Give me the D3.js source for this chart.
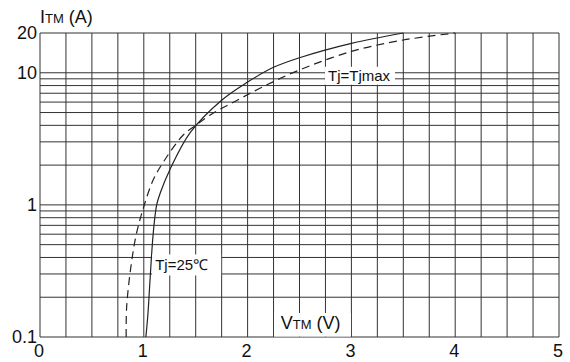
<!DOCTYPE html>
<meta charset="utf-8">
<head>
<style>
  body { margin: 0; background: #fff; }
  svg { display: block; }
  text { font-family: Arial, "Liberation Sans", Helvetica, sans-serif; }
</style>
</head>
<body>
<div id="my_dataviz"></div>
<script src="https://d3js.org/d3.v7.min.js"></script>
<script>
// data
const xTicks = [0, 1, 2, 3, 4, 5];
const yTicks = [0.1, 1, 10, 20];
const yTickLabels = ["0.1", "1", "10", "20"];

// Tj = 25 C (solid)
const v25 = [1.02, 1.04, 1.06, 1.09, 1.124, 1.16, 1.25, 1.45, 1.75, 2.0, 2.25, 2.5, 3.0, 3.5];
const i25 = [0.1, 0.15, 0.27, 0.6, 1.0, 1.24, 1.84, 3.55, 6.2, 8.5, 11.0, 13.0, 16.7, 20];

// Tj = Tjmax (dashed)
const vMax = [0.83, 0.835, 0.88, 0.93, 1.0, 1.09, 1.19, 1.38, 1.5, 1.64, 1.9, 2.15, 2.5, 3.0, 3.5, 4.0];
const iMax = [0.1, 0.17, 0.36, 0.61, 0.97, 1.54, 2.12, 3.38, 4.0, 4.8, 6.2, 7.85, 10.5, 14.5, 17.7, 20];

const W = 570, H = 362;
const margin = {top: 33, right: 11, bottom: 25, left: 40};
const width = W - margin.left - margin.right,
      height = H - margin.top - margin.bottom;

const svg = d3.select("#my_dataviz")
  .append("svg")
    .attr("width", W)
    .attr("height", H);

const g = svg.append("g")
  .attr("transform", `translate(${margin.left}, ${margin.top})`);

const x = d3.scaleLinear().domain([0, 5]).range([0, width]);
const y = d3.scaleLog().domain([0.1, 20]).range([height, 0]);

// grid: verticals every 0.25
const vLines = d3.range(0, 5.001, 0.25);
g.append("g").selectAll("line")
  .data(vLines)
  .join("line")
    .attr("x1", d => x(d)).attr("x2", d => x(d))
    .attr("y1", 0).attr("y2", height)
    .attr("stroke", "#333").attr("stroke-width", 1);

// horizontals: 1..9 in each decade, plus 20
const hLines = [];
[0.1, 1].forEach(dec => { for (let k = 1; k <= 9; k++) hLines.push(dec * k); });
hLines.push(10, 20);
g.append("g").selectAll("line")
  .data(hLines)
  .join("line")
    .attr("x1", 0).attr("x2", width)
    .attr("y1", d => y(d)).attr("y2", d => y(d))
    .attr("stroke", "#333").attr("stroke-width", 1);

// curves
const line = d3.line()
  .x(d => x(d[0]))
  .y(d => y(d[1]))
  .curve(d3.curveCatmullRom.alpha(0.5));

g.append("path")
  .datum(v25.map((v, k) => [v, i25[k]]))
  .attr("d", line)
  .attr("fill", "none")
  .attr("stroke", "#222")
  .attr("stroke-width", 1.2);

g.append("path")
  .datum(vMax.map((v, k) => [v, iMax[k]]))
  .attr("d", line)
  .attr("fill", "none")
  .attr("stroke", "#222")
  .attr("stroke-width", 1.2)
  .attr("stroke-dasharray", "8,5");

// labels with white boxes over the grid
function boxLabel(bx, by, bw, bh) {
  g.append("rect")
    .attr("x", bx).attr("y", by).attr("width", bw).attr("height", bh)
    .attr("fill", "#fff");
}

// Tj=Tjmax
boxLabel(285, y(10) - 6, 70, 18);
g.append("text")
  .attr("x", 288).attr("y", y(10) + 8)
  .style("font-size", "15px").attr("fill", "#111")
  .text("Tj=Tjmax");

// Tj=25C
boxLabel(x(1.08), y(0.4) - 3, x(1.75) - x(1.08) - 0.5, 21);
g.append("text")
  .attr("x", x(1.11)).attr("y", y(0.4) + 13)
  .style("font-size", "15px").attr("fill", "#111")
  .text("Tj=25℃");

// V_TM (V)
boxLabel(x(2.25) + 0.5, height - 24, x(3) - x(2.25) - 1, 23.5);
const xt = g.append("text")
  .attr("x", x(2.32)).attr("y", height - 8.5)
  .attr("fill", "#111");
xt.append("tspan").style("font-size", "18px").text("V");
xt.append("tspan").style("font-size", "13px").text("TM");
xt.append("tspan").style("font-size", "18px").text(" (V)");

// I_TM (A)
const yt = svg.append("text")
  .attr("x", 40).attr("y", 23)
  .attr("fill", "#111");
yt.append("tspan").style("font-size", "18px").text("I");
yt.append("tspan").style("font-size", "13px").text("TM");
yt.append("tspan").style("font-size", "18px").text(" (A)");

// tick labels
g.append("g").selectAll("text")
  .data(yTicks)
  .join("text")
    .attr("x", -3)
    .attr("y", d => y(d) + 6)
    .attr("text-anchor", "end")
    .style("font-size", "18px")
    .attr("fill", "#111")
    .text((d, k) => yTickLabels[k]);

g.append("g").selectAll("text")
  .data(xTicks)
  .join("text")
    .attr("x", d => x(d) - 1)
    .attr("y", height + 20)
    .attr("text-anchor", "middle")
    .style("font-size", "18px")
    .attr("fill", "#111")
    .text(d => d);
</script>
</body>
